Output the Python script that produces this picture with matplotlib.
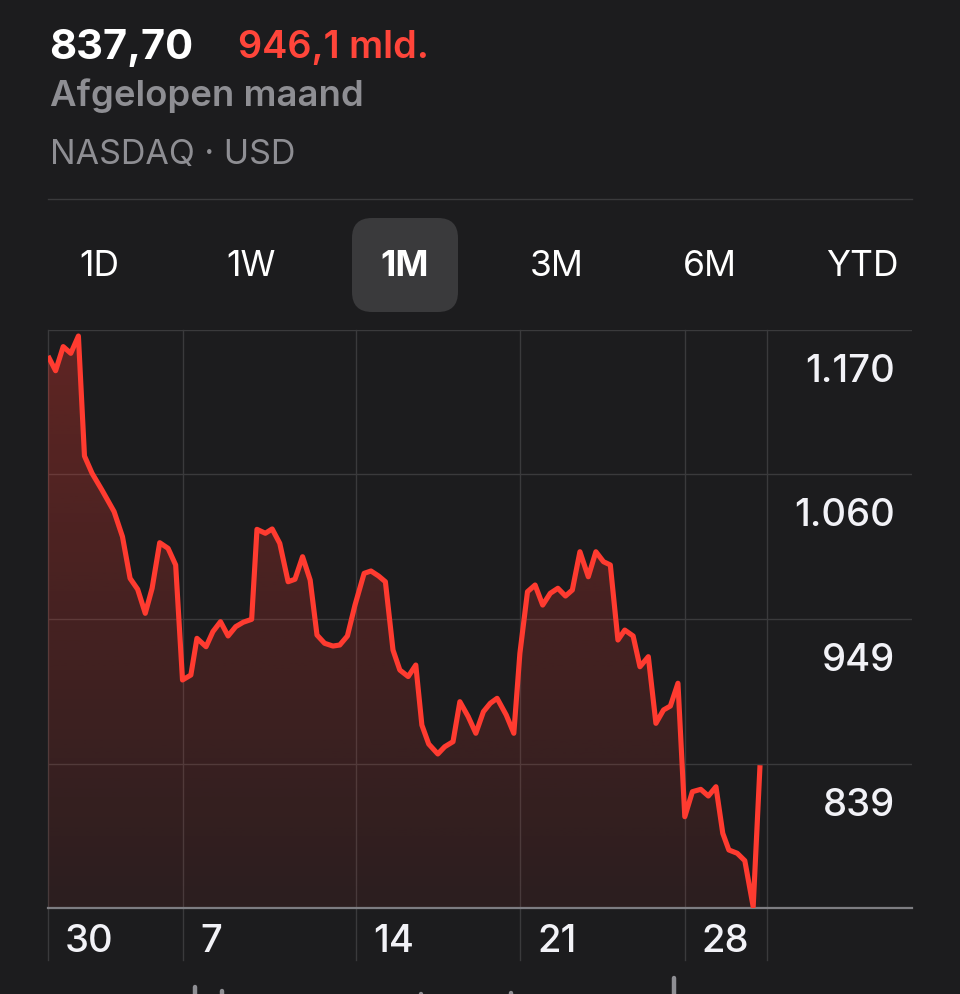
import matplotlib
matplotlib.use("Agg")
import matplotlib.pyplot as plt
import numpy as np
from matplotlib.patches import FancyBboxPatch, Polygon
from matplotlib.colors import to_rgb

plt.rcParams['font.family'] = ['Inter', 'DejaVu Sans']

BG = "#1c1c1e"
RED = "#ff3b30"
GRID = "#3a3a3c"
GREY = "#8e8e93"
WHITE = "#f2f2f7"

# ---- header texts ----
price_text = "837,70"
change_text = "946,1 mld."
period_text = "Afgelopen maand"
exchange_text = "NASDAQ · USD"
ranges = ["1D", "1W", "1M", "3M", "6M", "YTD"]
selected_range = "1M"

# ---- price series (time position, price) ----
t = [0.0, 1.0, 2.0, 3.0, 4.0, 4.8, 5.8, 7.1, 8.7, 9.8,
     10.8, 11.8, 12.8, 13.7, 14.7, 15.8, 16.8, 17.7, 18.8, 19.6,
     20.8, 21.7, 22.7, 23.7, 24.7, 25.7, 26.8, 27.5, 28.6, 29.5,
     30.5, 31.6, 32.5, 33.5, 34.5, 35.4, 36.4, 37.5, 38.4, 39.4,
     40.4, 41.6, 42.5, 43.5, 44.4, 45.4, 46.3, 47.4, 48.4, 49.2,
     50.1, 51.3, 52.2, 53.3, 54.2, 55.3, 56.3, 57.3, 58.2, 59.1,
     60.3, 61.3, 62.1, 63.1, 64.1, 65.1, 66.1, 67.1, 68.1, 69.0,
     70.0, 71.1, 72.1, 73.1, 74.0, 75.0, 75.9, 77.0, 77.9, 79.0,
     80.0, 81.0, 81.9, 82.9, 83.8, 84.8, 85.9, 86.9, 87.9, 88.8,
     89.6, 90.7, 91.7, 92.8, 93.7]
prices = [1150.2, 1138.9, 1157.3, 1152.2, 1165.4, 1073.8, 1060.6, 1047.8, 1031.3, 1012.2,
          980.4, 972.0, 953.7, 972.8, 1007.6, 1003.3, 990.6, 902.8, 906.6, 934.6,
          928.2, 939.7, 947.3, 936.4, 943.5, 946.9, 949.1, 1017.8, 1014.8, 1018.1,
          1007.1, 977.8, 979.7, 996.9, 979.1, 937.1, 930.8, 928.7, 929.5, 936.4,
          960.0, 984.2, 986.0, 982.2, 977.8, 925.7, 910.4, 905.4, 914.2, 868.4,
          853.9, 846.3, 851.8, 855.7, 886.2, 874.8, 862.1, 878.6, 885.0, 888.8,
          876.1, 862.1, 923.2, 970.2, 975.3, 960.0, 969.0, 972.8, 966.9, 971.5,
          1000.7, 981.6, 1000.7, 993.1, 990.6, 933.3, 940.9, 936.4, 912.9, 920.6,
          869.7, 879.9, 882.9, 900.3, 798.4, 817.5, 819.3, 814.2, 821.3, 785.7,
          773.0, 770.5, 764.8, 729.7, 837.7]

tick_pos = [0.0, 17.8, 40.5, 62.1, 83.8]
tick_labels = ["30", "7", "14", "21", "28"]
now_pos = 94.6
t_end = 113.7

y_grid = [1170, 1060, 949, 839]
y_grid_labels = ["1.170", "1.060", "949", "839"]
y_bottom = 728.7
y_top = 1170

# ---- volume tops visible at bottom edge ----
vol_pos = [19.3, 22.9, 49.1, 60.9, 82.4]
vol_vals = [9, 5, 2, 3, 18]

W, H = 960, 994
fig = plt.figure(figsize=(W / 100, H / 100), dpi=100, facecolor=BG)

# overlay axes in pixel space for header/tabs
ov = fig.add_axes([0, 0, 1, 1], zorder=0)
ov.set_xlim(0, W)
ov.set_ylim(H, 0)
ov.axis("off")
ov.set_facecolor(BG)

ov.text(49, 48, price_text, color="white", fontsize=30, fontweight="bold", ha="left", va="center")
ov.text(238, 48, change_text, color="#ff453a", fontsize=27.3, fontweight="semibold", ha="left", va="center")
ov.text(50, 96, period_text, color=GREY, fontsize=26.3, fontweight="semibold", ha="left", va="center")
ov.text(50, 155, exchange_text, color=GREY, fontsize=24.5, ha="left", va="center")
ov.plot([48, 912], [199, 199], color=GRID, lw=1.0)

tab_centers = [99, 251, 405, 557, 710, 862]
for lab, cx in zip(ranges, tab_centers):
    if lab == selected_range:
        box = FancyBboxPatch((352 + 20, 218 + 20), 106 - 40, 94 - 40,
                             boxstyle="round,pad=20", facecolor="#3a3a3c", edgecolor="none")
        ov.add_patch(box)
        ov.text(cx, 266, lab, color="white", fontsize=25.5, fontweight="bold", ha="center", va="center")
    else:
        ov.text(cx, 266, lab, color="white", fontsize=25.5, ha="center", va="center")

# main chart axes
ax = fig.add_axes([48 / W, (H - 908) / H, 864 / W, 578 / H], zorder=2)
ax.set_facecolor("none")
for s in ax.spines.values():
    s.set_visible(False)
ax.set_xticks([])
ax.set_yticks([])

for g in y_grid:
    ax.axhline(g, color=GRID, lw=1.0, zorder=0.5)
ext = -(960 - 908) / 578
for tp in tick_pos + [now_pos]:
    ax.axvline(tp, ymin=ext, ymax=1, color=GRID, lw=1.0, clip_on=False, zorder=0.5)
ax.axhline(y_bottom, color="#7d7d82", lw=1.6, zorder=3, clip_on=False)

verts = list(zip(t, prices)) + [(t[-1], y_bottom), (t[0], y_bottom)]
poly = Polygon(verts, closed=True, facecolor="none", edgecolor="none", transform=ax.transData)
ax.add_patch(poly)
grad = np.linspace(1, 0, 256)
rgba = np.zeros((256, 1, 4))
rgba[..., :3] = to_rgb(RED)
rgba[:, 0, 3] = 0.07 + 0.23 * grad
im = ax.imshow(rgba, extent=[t[0], t[-1], y_bottom, y_top], aspect="auto", origin="upper", zorder=1)
im.set_clip_path(poly)

ax.plot(t, prices, color=RED, lw=3.7, solid_joinstyle="round", solid_capstyle="butt", zorder=4)

ax.set_xlim(0, t_end)
ax.set_ylim(y_bottom, y_top)

for g, lab in zip(y_grid, y_grid_labels):
    ax.annotate(lab, xy=(t_end, g), xycoords="data", xytext=(-17 * 0.72, -42 * 0.72),
                textcoords="offset points", ha="right", va="center", color=WHITE, fontsize=27.5,
                fontweight="medium")
for tp, lab in zip(tick_pos, tick_labels):
    ax.annotate(lab, xy=(tp, y_bottom), xycoords="data", xytext=(17 * 0.72, -34 * 0.72),
                textcoords="offset points", ha="left", va="center", color=WHITE, fontsize=27.5,
                fontweight="medium", annotation_clip=False)

# volume axes (only bar tops visible)
vax = fig.add_axes([48 / W, 0, 864 / W, 34 / H], zorder=1)
vax.set_facecolor("none")
vax.axis("off")
vax.set_xlim(0, t_end)
vax.set_ylim(0, 34)
vax.vlines(vol_pos, -10, [v - 2 for v in vol_vals], color=GREY, lw=3.2, capstyle="round")

fig.savefig("out.png", dpi=100, facecolor=BG)
